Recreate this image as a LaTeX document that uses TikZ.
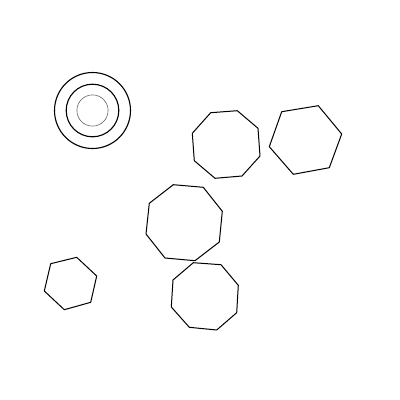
\documentclass[tikz,border=0pt]{standalone}
\begin{document}
\begin{tikzpicture}[x=1pt,y=-1pt,
  polyline/.style={draw=black,line width=1pt,line join=round},
  ring/.style={draw=black,line width=1.1pt},
  thinring/.style={draw=black!60,line width=0.6pt}]
\useasboundingbox[fill=white] (0,0) rectangle (400,400);
% concentric circles
\draw[ring] (92.5,110.5) circle (38);
\draw[ring] (92.5,110.5) circle (26.3);
\draw[thinring] (92.5,110.5) circle (15.6);
% top octagon
\draw[polyline] (210.7,112.7) -- (237.3,110.7) -- (258,128.3) -- (260,156) -- (242,176) -- (215,178.3) -- (194.3,160.7) -- (192.3,133.3) -- cycle;
% top right hexagon
\draw[polyline] (281.7,111.7) -- (318.3,105.7) -- (341.7,134) -- (329.3,167.7) -- (293.3,174.3) -- (269.3,146.7) -- cycle;
% big octagon
\draw[polyline] (173.3,184.7) -- (203.3,187.3) -- (222.3,211.3) -- (219.3,242) -- (195,260.7) -- (165,258) -- (146,234) -- (149.3,203.3) -- cycle;
% lower octagon
\draw[polyline] (193.3,262.7) -- (221,264.7) -- (238.3,285.3) -- (236.7,312.7) -- (216.7,330) -- (189.3,327.3) -- (171.3,307) -- (173,280) -- cycle;
% small hexagon
\draw[polyline] (50.7,263.7) -- (76.7,257.3) -- (96.7,276) -- (90.7,302.3) -- (64.3,309.7) -- (44.3,291) -- cycle;
\end{tikzpicture}
\end{document}
